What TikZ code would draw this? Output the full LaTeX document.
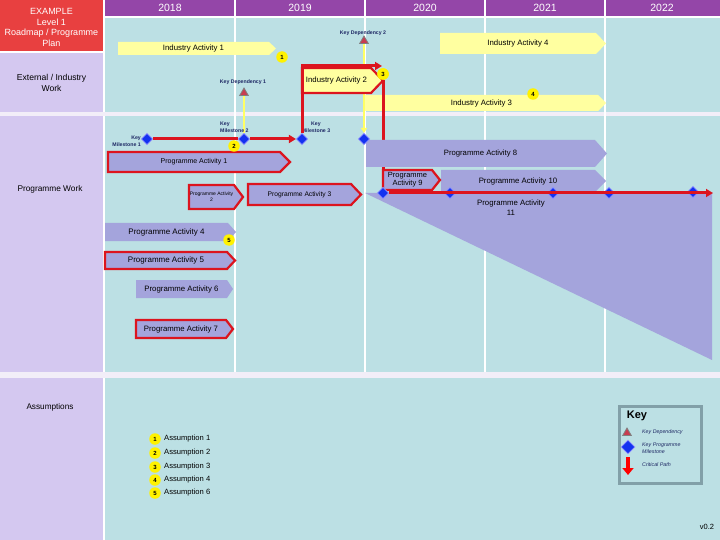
\documentclass[tikz,border=0pt]{standalone}
\usepackage{fontspec}
\setmainfont{Liberation Sans}
\usetikzlibrary{shapes.geometric,arrows.meta}
\definecolor{tlbg}{RGB}{188,224,228}
\definecolor{leftbg}{RGB}{212,200,240}
\definecolor{hdrpurple}{RGB}{148,70,168}
\definecolor{hdrred}{RGB}{232,64,64}
\definecolor{yact}{RGB}{255,255,160}
\definecolor{pact}{RGB}{164,164,220}
\definecolor{critred}{RGB}{220,20,30}
\definecolor{depyel}{RGB}{255,255,100}
\definecolor{msblue}{RGB}{20,50,240}
\definecolor{navy}{RGB}{30,40,100}
\definecolor{bandc}{RGB}{242,238,248}
\definecolor{keygray}{RGB}{130,160,168}
\definecolor{kdred}{RGB}{200,60,80}
\newcommand\myfs[2]{\fontsize{#1}{#2}\selectfont}
\newcommand\actshape[9]{%
  \path[#1] (#3,#4) -- ({#5-#7},#4) -- (#5,{(#4+#6)/2}) -- ({#5-#7},#6) -- (#3,#6) -- cycle;
  \node[#9] (#2) at ({(#3+#5-#7)/2},{(#4+#6)/2}) {#8};}
\pgfdeclarelayer{back}
\pgfdeclarelayer{lines}
\pgfdeclarelayer{boxes}
\pgfsetlayers{back,lines,boxes,main}
\begin{document}
\begin{tikzpicture}[x=1pt,y=-1pt,
  tx/.style={inner sep=0, align=center, text=black},
  yelbar/.style={fill=yact},
  yelbarr/.style={fill=yact, draw=critred, line width=2.2},
  lavbar/.style={fill=pact},
  lavbarr/.style={fill=pact, draw=critred, line width=2.2},
  crit/.style={draw=critred, line width=3},
  critarrow/.style={crit, -{Triangle[length=7pt,width=8pt]}},
  dep/.style={draw=depyel, line width=2.5},
  ms/.style={diamond, fill=msblue, draw=blue!40!white, line width=0.6, minimum size=11.5, inner sep=0},
  kdep/.style={regular polygon, regular polygon sides=3, fill=kdred, draw=gray, line width=0.8, minimum size=10, inner sep=0},
  num/.style={circle, fill=yellow, inner sep=0, minimum size=11.5, font=\bfseries\myfs{6}{6}},
  sml/.style={inner sep=0, text=navy, font=\bfseries\myfs{5.2}{7}},
  keytxt/.style={inner sep=0, text=navy, anchor=west, align=left, font=\itshape\myfs{5.3}{7}},
]
\useasboundingbox (0,0) rectangle (720,540);

\begin{pgfonlayer}{back}
\fill[white] (0,0) rectangle (720,540);
\fill[hdrred] (0,0) rectangle (103,51);
\fill[leftbg] (0,53) rectangle (103,112);
\fill[leftbg] (0,116) rectangle (103,372);
\fill[leftbg] (0,378) rectangle (103,540);
\fill[hdrpurple] (105,0) rectangle (720,16);
\fill[tlbg] (105,18) rectangle (720,112);
\fill[tlbg] (105,116) rectangle (720,372);
\fill[tlbg] (105,378) rectangle (720,540);
\fill[bandc] (0,112) rectangle (720,116);
\fill[bandc] (0,372) rectangle (720,378);
\foreach \x in {235,365,485,605} \draw[white, line width=2] (\x,0) -- (\x,372);
% PA11 triangle
\fill[pact] (365,193) -- (712,193) -- (712,360) -- cycle;
\node[tx, font=\myfs{7.8}{10}] (pa11) at (511,208) {Programme Activity\\11};
% industry bars
\actshape{yelbar}{ia1}{118}{42}{276}{55}{7}{Industry Activity 1}{tx, font=\myfs{7.8}{9}}
\actshape{yelbar}{ia4}{440}{33}{606}{54}{10}{Industry Activity 4}{tx, font=\myfs{7.8}{9}}
\actshape{yelbar}{ia3}{365}{95}{606}{111}{8}{Industry Activity 3}{tx, font=\myfs{7.8}{9}}
\end{pgfonlayer}

% header texts
\node[tx, text=white, font=\myfs{9}{10.6}] (hdr) at (51.5,27.5) {EXAMPLE\\Level 1\\Roadmap / Programme\\Plan};
\node[tx, text=white, font=\myfs{10.5}{12}] (y18) at (170,8) {2018};
\node[tx, text=white, font=\myfs{10.5}{12}] (y19) at (300,8) {2019};
\node[tx, text=white, font=\myfs{10.5}{12}] (y20) at (425,8) {2020};
\node[tx, text=white, font=\myfs{10.5}{12}] (y21) at (545,8) {2021};
\node[tx, text=white, font=\myfs{10.5}{12}] (y22) at (662,8) {2022};
\node[tx, font=\myfs{8.6}{11}] (extw) at (51.5,82.5) {External / Industry\\Work};
\node[tx, font=\myfs{8.3}{10}] (progw) at (50,189) {Programme Work};
\node[tx, font=\myfs{8.2}{10}] (assw) at (50,407) {Assumptions};

% programme bars
\begin{pgfonlayer}{boxes}
\actshape{lavbar}{pa8}{366}{140}{607}{167}{12}{Programme Activity 8}{tx, font=\myfs{7.7}{9}}
\actshape{lavbar}{pa10}{441}{170}{606}{192}{11}{Programme Activity 10}{tx, font=\myfs{7.8}{9}}
\actshape{lavbarr}{pa9}{383}{170}{440}{190}{8}{Programme\\Activity 9}{tx, font=\myfs{7.5}{8}}
\actshape{lavbarr}{pa1}{108}{152}{290}{172}{10}{Programme Activity 1}{tx, font=\myfs{7}{9}}
\actshape{lavbarr}{pa2}{189}{185}{243}{209}{9}{Programme Activity\\2}{tx, font=\myfs{5}{6}}
\actshape{lavbarr}{pa3}{248}{184}{361}{205}{10}{Programme Activity 3}{tx, font=\myfs{6.7}{9}}
\actshape{lavbar}{pa4}{105}{223}{236}{241}{8}{Programme Activity 4}{tx, font=\myfs{8}{9}}
\actshape{lavbarr}{pa5}{105}{252}{235}{269}{8}{Programme Activity 5}{tx, font=\myfs{8}{9}}
\actshape{lavbar}{pa6}{136}{280}{233}{298}{6}{Programme Activity 6}{tx, font=\myfs{7.8}{9}}
\actshape{lavbarr}{pa7}{136}{320}{233}{338}{7}{Programme Activity 7}{tx, font=\myfs{7.8}{9}}
\end{pgfonlayer}

% milestones
\node[ms] (ms1) at (147,139) {};
\node[ms] (ms2) at (244,139) {};
\node[ms] (ms3) at (302,139) {};
\node[ms] (ms4) at (364,139) {};
\node[ms] (ms5) at (383,193) {};
\node[ms] (ms6) at (450,193) {};
\node[ms] (ms7) at (553,193) {};
\node[ms] (ms8) at (609,193) {};
\node[ms] (ms9) at (693,192) {};
\node[sml, anchor=east, align=right] (ms1l) at (141,141.5) {Key\\Milestone 1};
\node[sml, anchor=west, align=left] (ms2l) at (220,127.5) {Key\\Milestone 2};
\node[sml, align=center] (ms3l) at (316,127.5) {Key\\Milestone 3};

% key dependencies
\node[kdep] (kd1) at (244,93) {};
\node[kdep] (kd2) at (364,41) {};
\node[sml] (kd1l) at (243,82) {Key Dependency 1};
\node[sml] (kd2l) at (363,33) {Key Dependency 2};

% numbered circles
\node[num] (n1) at (282,57) {1};
\node[num] (n2) at (234,146) {2};
\node[num] (n3) at (383,74) {3};
\node[num] (n4) at (533,94) {4};
\node[num] (n5) at (229,240) {5};

\coordinate (cpB) at (382,66);
\coordinate (cpEnd) at (713,193);

\begin{pgfonlayer}{lines}
\draw[dep, -{Triangle[length=5pt,width=6pt]}] (kd2) -- (ms4);
\draw[dep] (ms2) -- (kd1);
\actshape{yelbarr}{ia2}{302}{68}{383}{93}{12}{Industry Activity 2}{tx, font=\myfs{7.8}{9}}
\draw[crit] (n3) -- (ms5);
\end{pgfonlayer}

\draw[crit] (ms1) -- (ms2);
\draw[critarrow] (ms2) -- (ms3);
\draw[critarrow] (ms3) |- (cpB);
\draw[critarrow] (ms5) -- (cpEnd);
\node[num] at (383,74) {3};

% assumptions
\foreach \i/\y/\t in {1/439/Assumption 1, 2/453/Assumption 2, 3/467/Assumption 3, 4/480/Assumption 4, 5/493/Assumption 6}{
  \node[num] (a\i) at (155,\y) {\i};
  \node[tx, anchor=west, font=\myfs{7.6}{9}] (at\i) at (164,\y) {\t};
}

% key
\node[draw=keygray, line width=3, fill=tlbg, minimum width=82, minimum height=77, inner sep=0] (keybox) at (660,444.5) {};
\node[tx, font=\bfseries\myfs{11}{12}] (keyt) at (637,416) {Key};
\node[kdep] (kkd) at (627,433) {};
\node[keytxt] (kkdt) at (642,432) {Key Dependency};
\node[ms, minimum size=14] (kms) at (628,447) {};
\node[keytxt] (kmst) at (642,448.5) {Key Programme\\Milestone};
\coordinate (kc1) at (628,457);
\coordinate (kc2) at (628,475);
\draw[draw=red, line width=4, -{Triangle[length=7pt,width=11pt]}] (kc1) -- (kc2);
\node[keytxt] (kcpt) at (642,465) {Critical Path};

\node[tx, font=\myfs{7.5}{9}] (ver) at (707,527) {v0.2};
\end{tikzpicture}
\end{document}
